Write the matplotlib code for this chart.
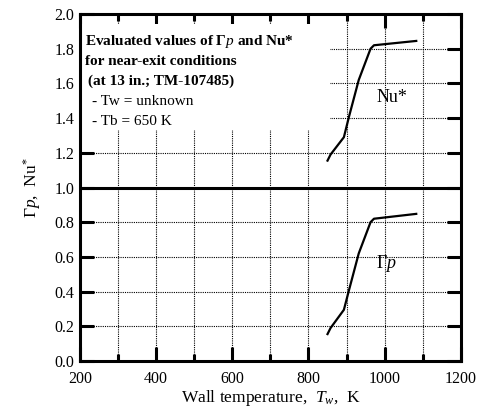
import matplotlib.pyplot as plt
from matplotlib.patches import Rectangle
from matplotlib.ticker import MultipleLocator

plt.rcParams['font.family'] = ['Liberation Serif', 'DejaVu Serif']
plt.rcParams['mathtext.fontset'] = 'custom'
plt.rcParams['mathtext.rm'] = 'Liberation Serif'
plt.rcParams['mathtext.it'] = 'Liberation Serif:italic'
plt.rcParams['mathtext.bf'] = 'Liberation Serif:bold'

# Datos
temp_pared = [850, 858, 893, 906, 932, 963, 972, 1083]
nu_estrella = [1.155, 1.19, 1.29, 1.405, 1.62, 1.80, 1.82, 1.845]
gamma_p = [0.155, 0.19, 0.295, 0.405, 0.62, 0.80, 0.82, 0.848]

fig = plt.figure(figsize=(4.81, 4.13), dpi=100)
ax = fig.add_axes([0.1663, 0.126, 0.7917, 0.840])

ax.set_xlim(200, 1200)
ax.set_ylim(0, 2.0)

# Rejilla punteada
for x in range(300, 1200, 100):
    ax.axvline(x, color='black', lw=0.8, ls=(0, (1, 1)), zorder=1)
for y in [0.2, 0.4, 0.6, 0.8, 1.2, 1.4, 1.6, 1.8]:
    ax.axhline(y, color='black', lw=0.8, ls=(0, (1, 1)), zorder=1)
ax.axhline(1.0, color='black', lw=2.2, zorder=3)

# Fondo blanco del cuadro de texto
ax.add_patch(Rectangle((201, 1.33), 655, 0.61, facecolor='white',
                       edgecolor='none', zorder=2))

ax.plot(temp_pared, nu_estrella, color='black', lw=1.6, zorder=4)
ax.plot(temp_pared, gamma_p, color='black', lw=1.6, zorder=4)

ax.text(213, 1.84, r'Evaluated values of $\mathbf{\Gamma}\mathit{p}$ and Nu*',
        fontsize=11, fontweight='bold', va='center', zorder=5)
ax.text(213, 1.725, 'for near-exit conditions', fontsize=11,
        fontweight='bold', va='center', zorder=5)
ax.text(222, 1.61, '(at 13 in.; TM-107485)', fontsize=11,
        fontweight='bold', va='center', zorder=5)
ax.text(232, 1.495, '- Tw = unknown', fontsize=11, va='center', zorder=5)
ax.text(232, 1.38, '- Tb = 650 K', fontsize=11, va='center', zorder=5)

ax.text(978, 1.52, 'Nu*', fontsize=13, va='center', zorder=5)
ax.text(978, 0.56, r'$\Gamma\mathit{p}$', fontsize=13, va='center', zorder=5)

ax.xaxis.set_major_locator(MultipleLocator(200))
ax.xaxis.set_minor_locator(MultipleLocator(100))
ax.set_yticks([0.0, 0.2, 0.4, 0.6, 0.8, 1.0, 1.2, 1.4, 1.6, 1.8, 2.0])
ax.set_yticklabels(['0.0', '0.2', '0.4', '0.6', '0.8', '1.0',
                    '1.2', '1.4', '1.6', '1.8', '2.0'])
ax.tick_params(which='major', direction='in', length=10, width=2.2,
               top=True, right=True, labelsize=11.5)
ax.tick_params(which='minor', direction='in', length=5, width=2.2,
               top=True, right=True)
ax.tick_params(axis='x', which='major', pad=7)
ax.tick_params(axis='y', which='major', pad=4)
for s in ax.spines.values():
    s.set_linewidth(2.2)
    s.set_zorder(6)

ax.set_xlabel(r'Wall temperature,  $\mathit{T}_{\mathit{w}}$,  K',
              fontsize=12.5, labelpad=1)
ax.set_ylabel(r'$\Gamma\mathit{p}$,  Nu$^{*}$', fontsize=12.5, labelpad=8)

fig.savefig('out.png', dpi=100)
